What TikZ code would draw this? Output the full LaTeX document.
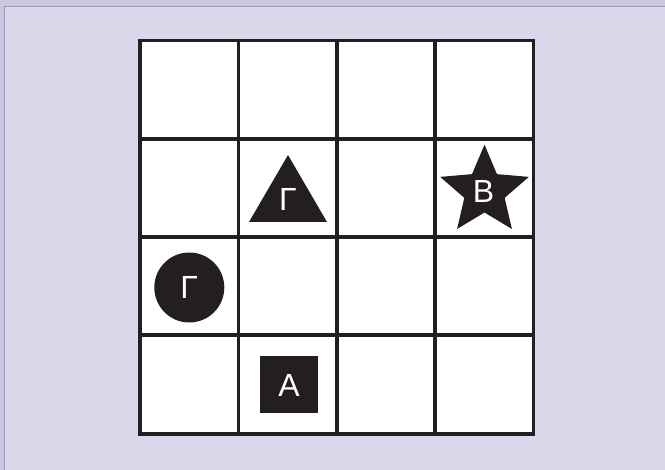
\documentclass[tikz,border=0pt]{standalone}
\usepackage{fontspec}
\setmainfont{Liberation Sans}
\definecolor{outerbg}{HTML}{CBC9E0}
\definecolor{innerbg}{HTML}{DAD8EA}
\definecolor{frameline}{HTML}{9C95C9}
\definecolor{ink}{HTML}{231F20}
\begin{document}
\begin{tikzpicture}[x=1pt,y=-1pt,
  glyph/.style={text=white, font=\fontsize{32}{32}\selectfont, inner sep=0pt, anchor=center},
  gridline/.style={draw=ink, line width=3.8pt},
  shapefill/.style={fill=ink}]
\useasboundingbox (0,0) rectangle (665,470);
\fill[outerbg] (0,0) rectangle (665,470);
\fill[innerbg] (4.5,6.5) rectangle (667,472);
\draw[frameline, line width=1.5pt] (4.5,472) -- (4.5,6.5) -- (667,6.5);
% board
\fill[white] (140.2,40.5) rectangle (533.4,433.7);
\foreach \i in {0,...,4} {
  \draw[gridline] (140.2+98.3*\i,40.5-1.9) -- (140.2+98.3*\i,433.7+1.9);
  \draw[gridline] (140.2-1.9,40.5+98.3*\i) -- (533.4+1.9,40.5+98.3*\i);
}
% triangle
\fill[shapefill] (288,155) -- (327,222) -- (249,222) -- cycle;
\node[glyph] (gammatri) at (288,199) {Γ};
% star
\fill[shapefill,shift={(484.5,191.3)}] (-90:46.6) -- (-54:21.2) -- (-18:46.6) -- (18:21.2) -- (54:46.6) -- (90:21.2) -- (126:46.6) -- (162:21.2) -- (198:46.6) -- (234:21.2) -- cycle;
\node[glyph] (bstar) at (483.5,191.5) {B};
% circle
\fill[shapefill] (189.3,287.5) circle[radius=35];
\node[glyph] (gammacirc) at (189.3,287) {Γ};
% square
\fill[shapefill] (260,355.7) rectangle (318,413.3);
\node[glyph] (asq) at (289,385) {A};
\end{tikzpicture}
\end{document}
